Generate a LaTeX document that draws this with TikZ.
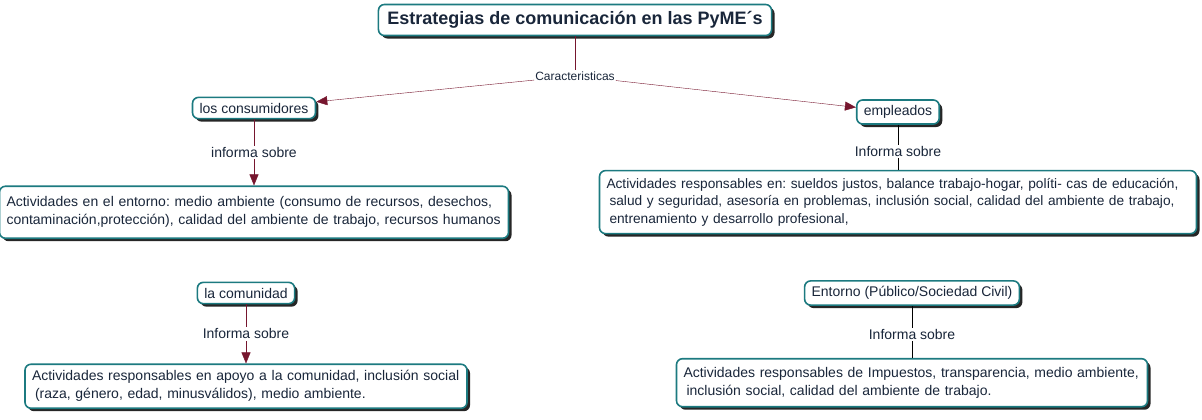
\documentclass[tikz,border=0pt]{standalone}
\usepackage{fontspec}
\setmainfont{Liberation Sans}
\usetikzlibrary{shapes,arrows.meta,positioning,shadows}
\usepackage{xcolor}
\definecolor{borde}{RGB}{28,122,128}
\definecolor{texto}{RGB}{25,38,58}
\definecolor{flecha}{RGB}{118,22,46}
\frenchspacing

\begin{document}
\begin{tikzpicture}[x=1pt, y=1pt, every node/.style={font=\fontsize{14}{18}\selectfont, text=texto}]
    \tikzstyle{concept} = [rectangle, draw=borde, line width=1.6pt, fill=white, rounded corners=6pt, inner xsep=7pt, inner ysep=5.5pt, drop shadow={shadow xshift=3pt, shadow yshift=-3pt, fill=black!85, opacity=1}]
    \tikzstyle{box} = [concept, align=left, inner xsep=7pt]
    \tikzstyle{link} = [fill=white, inner sep=1.5pt]
    \tikzstyle{arrow} = [draw=flecha, -{Triangle[width=9pt,length=11pt]}]
    \tikzstyle{plain} = [draw=black]
    \useasboundingbox (0,0) rectangle (1202,-420);

    \node (title) [concept, inner xsep=9pt, inner ysep=7pt, font=\bfseries\fontsize{18}{21}\selectfont] at (575,-20) {Estrategias de comunicación en las PyME´s};
    \node (carac) [inner sep=1pt, font=\fontsize{12}{14}\selectfont] at (575,-76) {Caracteristicas};
    \node (cons) [concept] at (254,-108) {los consumidores};
    \node (empl) [concept] at (898,-112) {empleados};
    \node (comu) [concept] at (246,-293) {la comunidad};
    \node (ento) [concept] at (912,-293) {Entorno (Público/Sociedad Civil)};

    \node (consAct) [box, text width=495pt, minimum height=52pt, below=66pt of cons] {Actividades en el entorno: medio ambiente (consumo de recursos, desechos,\\contaminación,protección), calidad del ambiente de trabajo, recursos humanos};
    \node (emplAct) [box, text width=583pt, minimum height=63pt, below=45pt of empl, font=\fontsize{13.7}{17.5}\selectfont] {Actividades responsables en: sueldos justos, balance trabajo-hogar, políti- cas de educación,\\\hspace{3pt}salud y seguridad, asesoría en problemas, inclusión social, calidad del ambiente de trabajo,\\\hspace{3pt}entrenamiento y desarrollo profesional,};
    \node (comuAct) [box, text width=428pt, minimum height=44pt, below=59pt of comu] {Actividades responsables en apoyo a la comunidad, inclusión social\\\hspace{3pt}(raza, género, edad, minusválidos), medio ambiente.};
    \node (entoAct) [box, text width=457pt, minimum height=48pt, below=52pt of ento] {Actividades responsables de Impuestos, transparencia, medio ambiente,\\\hspace{3pt}inclusión social, calidad del ambiente de trabajo.};

    \draw [draw=flecha] (title) -- (carac);
    \draw [arrow] (carac) -- (cons);
    \draw [arrow] (carac) -- (empl);
    \draw [arrow] (cons) -- node[link] {informa sobre} (consAct);
    \draw [arrow] (comu) -- node[link] {Informa sobre} (comuAct);
    \draw [plain] (empl) -- node[link, pos=0.6] {Informa sobre} (emplAct);
    \draw [plain] (ento) -- node[link, pos=0.55] {Informa sobre} (entoAct);

    \end{tikzpicture}
\end{document}
